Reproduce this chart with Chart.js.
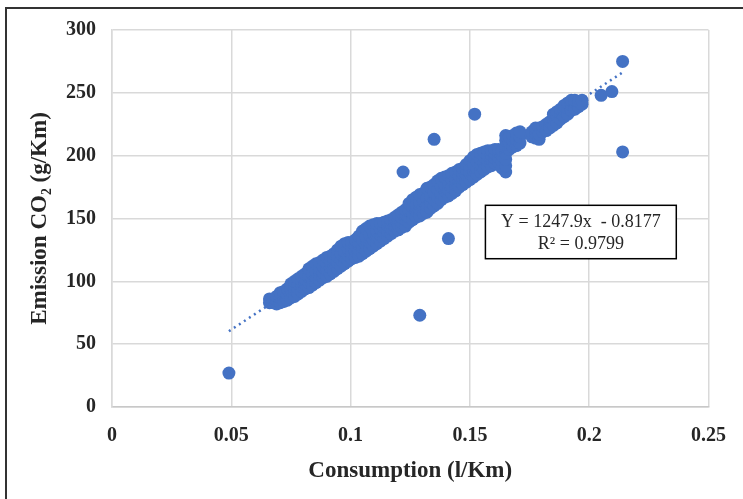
<!DOCTYPE html>
<html>
<head>
<meta charset="utf-8">
<script src="https://cdn.jsdelivr.net/npm/chart.js@4"></script>
<style>
  html, body { margin: 0; padding: 0; background: #fff; }
  #wrap { position: relative; width: 743px; height: 499px; }
  #frame { position: absolute; left: 5px; top: 7px; right: 0; bottom: 0; border-top: 2px solid #333; border-left: 2px solid #333; pointer-events: none; }
</style>
</head>
<body>
<div id="wrap">
  <canvas id="chart" width="743" height="499"></canvas>
  <div id="frame"></div>
</div>
<script>
// Data: one x per column of the band, with the y values seen there
const consumption = [0.0660, 0.0675, 0.0690, 0.0705, 0.0720, 0.0735, 0.0750, 0.0765, 0.0780, 0.0795,
  0.0810, 0.0825, 0.0840, 0.0855, 0.0870, 0.0885, 0.0900, 0.0915, 0.0930, 0.0945,
  0.0960, 0.0975, 0.0990, 0.1005, 0.1020, 0.1035, 0.1050, 0.1065, 0.1080, 0.1095,
  0.1110, 0.1125, 0.1140, 0.1155, 0.1170, 0.1185, 0.1200, 0.1215, 0.1230, 0.1245,
  0.1260, 0.1275, 0.1290, 0.1305, 0.1320, 0.1335, 0.1350, 0.1365, 0.1380, 0.1395,
  0.1410, 0.1425, 0.1440, 0.1455, 0.1470, 0.1485, 0.1500, 0.1515, 0.1530, 0.1545,
  0.1560, 0.1575, 0.1590, 0.1605, 0.1620, 0.1635, 0.1650, 0.1665, 0.1680, 0.1695,
  0.1710, 0.1760, 0.1775, 0.1790, 0.1805, 0.1820, 0.1835, 0.1850, 0.1865, 0.1880,
  0.1895, 0.1910, 0.1925, 0.1940, 0.1955, 0.1970, 0.2050, 0.2095];
const emission = [
  [83, 86], [83, 86], [82, 85, 88], [83, 87, 91], [84, 88, 92],
  [85, 89, 94], [87, 91, 95, 98], [88, 93, 97, 100], [90, 94, 98, 102], [92, 96, 100, 104],
  [94, 98, 102, 106], [95, 99, 104, 110], [97, 101, 106, 112], [99, 103, 108, 114], [101, 105, 110, 115],
  [103, 107, 112, 117], [104, 109, 114, 119], [106, 111, 116, 120], [108, 113, 118, 122], [110, 115, 120, 125],
  [112, 117, 122, 128], [114, 119, 124, 130], [116, 121, 126, 131], [118, 122, 127, 131], [119, 124, 129, 133],
  [120, 125, 130, 136], [122, 127, 133, 140], [124, 129, 135, 142], [126, 131, 137, 144], [128, 133, 139, 145],
  [130, 135, 140, 146], [132, 137, 142, 146], [134, 139, 143, 147], [136, 140, 145, 148], [138, 142, 146, 149],
  [140, 144, 148, 151], [141, 145, 149, 153], [143, 147, 151, 155], [144, 149, 153, 157], [147, 151, 156, 162],
  [149, 154, 159, 165], [151, 156, 161, 167], [152, 157, 163, 169], [154, 159, 164, 170], [155, 160, 166, 174],
  [158, 163, 168, 175], [160, 165, 171, 177], [162, 167, 173, 180], [165, 170, 175, 182], [167, 172, 177, 183],
  [168, 173, 179, 184], [170, 175, 181, 186], [172, 177, 182, 187], [175, 180, 184, 189], [177, 182, 186, 190],
  [179, 184, 189, 193], [181, 186, 191, 196], [183, 188, 193, 199], [185, 190, 195, 201], [187, 192, 197, 202],
  [189, 194, 199, 203], [191, 196, 200, 204], [192, 197, 201, 204], [194, 198, 202, 205], [195, 199, 203, 205],
  [190, 195, 200, 204], [187, 192, 197, 202, 207, 212, 216], [205, 210, 215], [207, 212, 216], [208, 213, 218],
  [210, 215, 219], [215, 219], [214, 218, 222], [213, 217, 222], [219, 223],
  [220, 225], [222, 227], [224, 229, 233], [226, 231, 235], [229, 234, 237],
  [231, 236, 240], [233, 238, 242], [236, 241, 244], [237, 242, 244], [239, 243],
  [241, 244], [248], [251]];
const outlierX = [0.049, 0.129, 0.141, 0.122, 0.135, 0.152, 0.214, 0.214];
const outlierY = [27, 73, 134, 187, 213, 233, 275, 203];

// Trendline as printed on the chart
const slope = 1247.9;
const intercept = -0.8177;
const r2 = 0.9799;
const trendX = [0.049, 0.214];

const xTicks = [0, 0.05, 0.1, 0.15, 0.2, 0.25];
const yTicks = [0, 50, 100, 150, 200, 250, 300];

const blue = "#4472C4";
const serif = "'Liberation Serif', 'Times New Roman', serif";

const points = [];
consumption.forEach((x, i) => emission[i].forEach(y => points.push({ x, y })));
outlierX.forEach((x, i) => points.push({ x, y: outlierY[i] }));

const trend = trendX.map(x => ({ x, y: slope * x + intercept }));

// Equation box
const eqBox = {
  id: "eqBox",
  afterDatasetsDraw(chart) {
    const { ctx, scales: { x, y } } = chart;
    const left = x.getPixelForValue(0.1565);
    const right = x.getPixelForValue(0.2365);
    const top = y.getPixelForValue(160.5);
    const bottom = y.getPixelForValue(118);
    ctx.save();
    ctx.fillStyle = "#fff";
    ctx.fillRect(left, top, right - left, bottom - top);
    ctx.strokeStyle = "#000";
    ctx.lineWidth = 1.5;
    ctx.strokeRect(left, top, right - left, bottom - top);
    ctx.fillStyle = "#262626";
    ctx.font = "18px " + serif;
    ctx.textAlign = "center";
    ctx.textBaseline = "middle";
    const cx = (left + right) / 2;
    ctx.fillText("Y = " + slope + "x  - " + Math.abs(intercept), cx, top + 17);
    ctx.fillText("R² = " + r2, cx, top + 39);
    ctx.restore();
  }
};

new Chart(document.getElementById("chart"), {
  type: "scatter",
  data: {
    datasets: [{
      data: points,
      pointRadius: 6.5,
      pointBackgroundColor: blue,
      pointBorderColor: blue,
      pointBorderWidth: 0,
      order: 2
    }, {
      type: "line",
      data: trend,
      borderColor: blue,
      borderWidth: 2.5,
      borderDash: [2, 4],
      pointRadius: 0,
      fill: false,
      order: 1
    }]
  },
  options: {
    responsive: false,
    animation: false,
    events: [],
    layout: { padding: { left: 0, top: 30, right: 31, bottom: 0 } },
    plugins: { legend: { display: false }, tooltip: { enabled: false } },
    scales: {
      x: {
        type: "linear",
        min: 0, max: 0.25,
        afterBuildTicks: s => { s.ticks = xTicks.map(v => ({ value: v })); },
        afterFit: s => { s.height = 92; },
        grid: { color: "#d9d9d9", lineWidth: 1.5, drawTicks: false },
        border: { color: "#c8c8c8", width: 1.5 },
        ticks: { padding: 17, color: "#262626", font: { family: serif, size: 20, weight: "bold" }, callback: v => String(v) },
        title: { display: true, text: "Consumption (l/Km)", color: "#262626", padding: { top: 0, bottom: 14 }, font: { family: serif, size: 23, weight: "bold" } }
      },
      y: {
        min: 0, max: 300,
        afterBuildTicks: s => { s.ticks = yTicks.map(v => ({ value: v })); },
        afterFit: s => { s.width = 112; },
        grid: { color: "#d9d9d9", lineWidth: 1.5, drawTicks: false },
        border: { color: "#d9d9d9", width: 1.5 },
        ticks: { padding: 16, color: "#262626", font: { family: serif, size: 20, weight: "bold" } },
        title: { display: true, text: "Emission CO₂ (g/Km)", color: "#262626", padding: { top: 26, bottom: 0 }, font: { family: serif, size: 23, weight: "bold" } }
      }
    }
  },
  plugins: [eqBox]
});
</script>
</body>
</html>
